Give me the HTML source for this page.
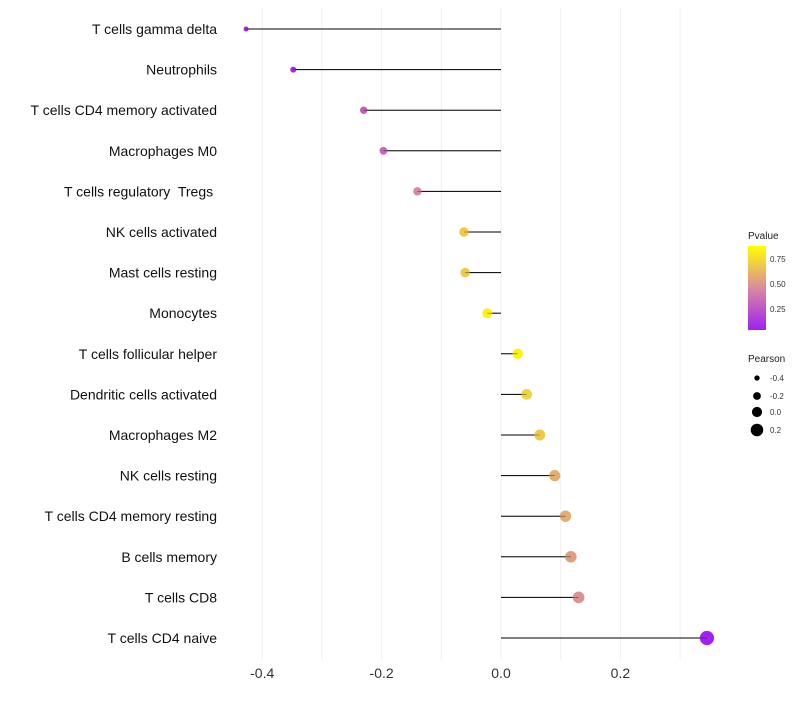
<!DOCTYPE html>
<html><head><meta charset="utf-8"><style>
body{margin:0;background:#fff;font-family:"Liberation Sans",sans-serif}
text{white-space:pre}
</style></head><body>
<svg id="chart" width="800" height="700" xmlns="http://www.w3.org/2000/svg" font-family="Liberation Sans, sans-serif">
<defs><linearGradient id="pg" x1="0" y1="1" x2="0" y2="0">
<stop offset="0" stop-color="#a020f0"/><stop offset="0.5" stop-color="#d98aa0"/><stop offset="1" stop-color="#ffff00"/></linearGradient></defs>
<g id="grid"></g>
<g id="marks"></g>
<g id="ylabels"></g>
<g id="xlabels"></g>
<g>
<text x="748" y="239" font-size="10" fill="#222">Pvalue</text>
<rect x="748" y="246" width="18" height="84" fill="url(#pg)"/>
<text x="770" y="262" font-size="8" fill="#333">0.75</text>
<text x="770" y="287" font-size="8" fill="#333">0.50</text>
<text x="770" y="312" font-size="8" fill="#333">0.25</text>
</g>
<g id="sizeleg">
<text x="748" y="362" font-size="10" fill="#222">Pearson</text>
</g>
</svg>
<script>
const categories=["T cells gamma delta","Neutrophils","T cells CD4 memory activated","Macrophages M0","T cells regulatory  Tregs ","NK cells activated","Mast cells resting","Monocytes","T cells follicular helper","Dendritic cells activated","Macrophages M2","NK cells resting","T cells CD4 memory resting","B cells memory","T cells CD8","T cells CD4 naive"];
const pearson=[-0.427,-0.348,-0.23,-0.197,-0.14,-0.062,-0.06,-0.023,0.028,0.043,0.065,0.09,0.108,0.117,0.13,0.345];
const pvalue=[0.04,0.05,0.3,0.35,0.5,0.78,0.78,0.95,0.95,0.82,0.78,0.66,0.65,0.6,0.55,0.03];
const xTicks=[-0.4,-0.2,0.0,0.2];
const xMinor=[-0.3,-0.1,0.1,0.3];
const sizeLegend=[-0.4,-0.2,0.0,0.2];
const NS="http://www.w3.org/2000/svg";
const xs=v=>501+v*597;
const ys=i=>29+i*40.6;
const rs=v=>2.5+(v+0.43)*6;
function col(p){const t=Math.max(0,Math.min(1,(p-0.02)/0.98));
 const a=[160,32,240],m=[217,138,160],b=[255,255,0];let c;
 if(t<0.5){const u=t/0.5;c=a.map((x,k)=>x+(m[k]-x)*u);}else{const u=(t-0.5)/0.5;c=m.map((x,k)=>x+(b[k]-x)*u);}
 return `rgb(${c.map(Math.round).join(',')})`;}
function mk(tag,at,parent){const e=document.createElementNS(NS,tag);for(const k in at)e.setAttribute(k,at[k]);parent.appendChild(e);return e;}
const grid=document.getElementById('grid'),marks=document.getElementById('marks'),yl=document.getElementById('ylabels'),xl=document.getElementById('xlabels');
xMinor.concat(xTicks).forEach(v=>{const l=mk('line',{x1:xs(v),x2:xs(v),y1:8,y2:660,stroke:'#f0f0f0','stroke-width':1},grid);

});
xTicks.forEach(v=>{const t=mk('text',{x:xs(v),y:678,'font-size':14,'text-anchor':'middle',fill:'#333'},xl);t.textContent=v.toFixed(1);

});
categories.forEach((c,i)=>{const y=ys(i);
 const t=mk('text',{x:217,y:y+5,'font-size':14,'text-anchor':'end',fill:'#111'},yl);t.textContent=c;
 
 
 const l=mk('line',{x1:xs(0),x2:xs(pearson[i]),y1:y,y2:y,stroke:'#000','stroke-width':1},marks);
 
 
 const d=mk('circle',{cx:xs(pearson[i]),cy:y,r:rs(pearson[i]),fill:col(pvalue[i])},marks);
 
 
 const l2=mk('line',{x1:xs(0),x2:xs(pearson[i]),y1:y,y2:y,stroke:'#000','stroke-width':0.6,'stroke-opacity':0.6},marks);
 
 });
const sl=document.getElementById('sizeleg');const sy=[378,396,412,430];
sizeLegend.forEach((v,i)=>{const c=mk('circle',{cx:757,cy:sy[i],r:rs(v),fill:'#000'},sl);


const t=mk('text',{x:770,y:sy[i]+3,'font-size':8,fill:'#333'},sl);t.textContent=v.toFixed(1);

});
</script>
</body></html>
